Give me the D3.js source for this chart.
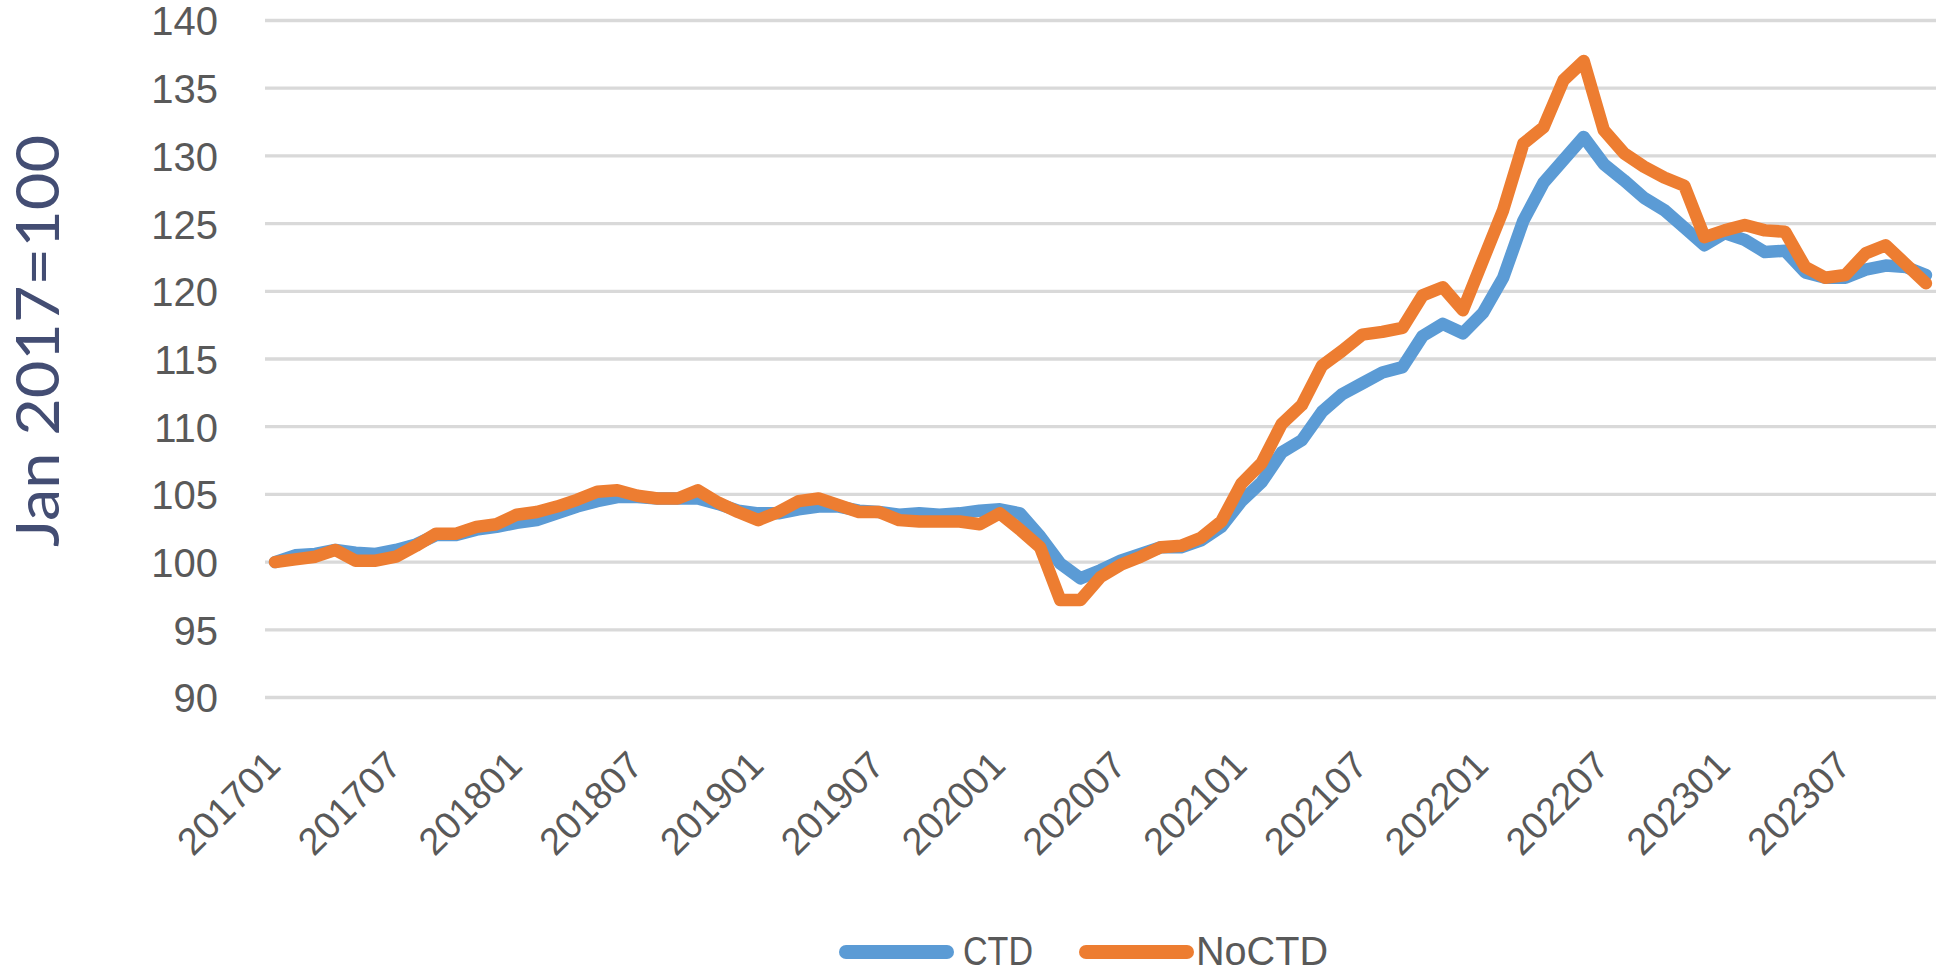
<!DOCTYPE html>
<html>
<head>
<meta charset="utf-8">
<script src="https://cdn.jsdelivr.net/npm/d3@7"></script>
<style>
  body { margin: 0; background: #fff; }
  svg { display: block; }
</style>
</head>
<body>
<svg></svg>
<script>
// monthly categories 201701 .. 202311
let months = [];
for (let yr = 2017; yr <= 2023; yr++) {
    for (let m = 1; m <= 12; m++) {
        if (yr === 2023 && m === 12) break;
        months.push(yr + String(m).padStart(2, "0"));
    }
}

let ctd = [
    100.0, 100.5, 100.6, 100.9, 100.7, 100.6, 100.9, 101.3, 102.0, 102.0, 102.4, 102.6,
    102.9, 103.1, 103.6, 104.1, 104.5, 104.8, 104.8, 104.7, 104.7, 104.7, 104.3, 103.8,
    103.6, 103.6, 103.9, 104.1, 104.1, 103.8, 103.7, 103.5, 103.6, 103.5, 103.6, 103.8,
    103.9, 103.6, 101.9, 99.9, 98.8, 99.4, 100.1, 100.6, 101.1, 101.1, 101.6, 102.6,
    104.5, 105.9, 108.1, 109.0, 111.1, 112.4, 113.2, 114.0, 114.4, 116.7, 117.6, 116.9,
    118.4, 121.0, 125.2, 128.0, 129.7, 131.4, 129.4, 128.2, 126.9, 126.0, 124.7, 123.4,
    124.3, 123.8, 122.9, 123.0, 121.4, 121.0, 121.0, 121.6, 121.9, 121.8, 121.2
];

let noctd = [
    100.0, 100.2, 100.4, 100.9, 100.1, 100.1, 100.4, 101.2, 102.1, 102.1, 102.6, 102.8,
    103.5, 103.7, 104.1, 104.6, 105.2, 105.3, 104.9, 104.7, 104.7, 105.3, 104.4, 103.7,
    103.1, 103.7, 104.5, 104.7, 104.2, 103.7, 103.7, 103.1, 103.0, 103.0, 103.0, 102.8,
    103.6, 102.4, 101.1, 97.2, 97.2, 98.9, 99.8, 100.4, 101.1, 101.2, 101.8, 103.0,
    105.8, 107.3, 110.2, 111.6, 114.5, 115.6, 116.8, 117.0, 117.3, 119.7, 120.3, 118.6,
    122.3, 126.0, 130.9, 132.1, 135.6, 137.0, 131.9, 130.2, 129.2, 128.4, 127.8, 124.0,
    124.5, 124.9, 124.5, 124.4, 121.8, 121.0, 121.2, 122.8, 123.4, 122.0, 120.6
];

let yTicks = [90, 95, 100, 105, 110, 115, 120, 125, 130, 135, 140];
let xTicks = months.filter((d, i) => i % 6 === 0);

let seriesNames = ["CTD", "NoCTD"];
let seriesColors = ["#5b9bd5", "#ed7d31"];

let svg = d3.select("svg").attr("width", 1960).attr("height", 973);

let x = d3.scalePoint().domain(months).range([265, 1936]).padding(0.5);
let y = d3.scaleLinear().domain([90, 140]).range([697.5, 20.5]);

// gridlines
svg.append("g")
    .selectAll("line")
    .data(yTicks)
    .join("line")
    .attr("x1", 265)
    .attr("x2", 1936)
    .attr("y1", d => y(d))
    .attr("y2", d => y(d))
    .style("stroke", "#d9d9d9")
    .style("stroke-width", 3.3);

// y axis labels
let yAxis = svg.append("g")
    .attr("transform", "translate(218,0)")
    .call(d3.axisLeft(y).tickValues(yTicks).tickSize(0).tickPadding(0));
yAxis.select(".domain").remove();
yAxis.selectAll("text")
    .attr("x", 0)
    .attr("dy", "0.36em")
    .style("font-family", "'Liberation Sans', Arial, sans-serif")
    .style("font-size", "40px")
    .style("fill", "#595959");

// x axis labels
let xAxis = svg.append("g")
    .attr("transform", "translate(0,697.5)")
    .call(d3.axisBottom(x).tickValues(xTicks).tickSize(0));
xAxis.select(".domain").remove();
xAxis.selectAll("text")
    .attr("x", 0)
    .attr("y", 0)
    .attr("dy", 0)
    .attr("transform", "translate(7,70) rotate(-45)")
    .style("text-anchor", "end")
    .style("font-family", "'Liberation Sans', Arial, sans-serif")
    .style("font-size", "38px")
    .style("fill", "#595959");

// y axis title
svg.append("text")
    .attr("transform", "translate(59,341) rotate(-90)")
    .attr("text-anchor", "middle")
    .attr("textLength", 412)
    .attr("lengthAdjust", "spacingAndGlyphs")
    .style("font-family", "Lato, 'Open Sans', sans-serif")
    .style("font-size", "60px")
    .style("fill", "#434d73")
    .text("Jan 2017=100");

// lines
let line = d3.line()
    .x((d, i) => x(months[i]))
    .y(d => y(d));

[ctd, noctd].forEach((vals, k) => {
    svg.append("path")
        .attr("d", line(vals))
        .style("fill", "none")
        .style("stroke", seriesColors[k])
        .style("stroke-width", 12.5)
        .style("stroke-linejoin", "round")
        .style("stroke-linecap", "round");
});

// legend
let legendX = [846, 1086];
let legendTextX = [963, 1196];
let legendTextLen = [70, 132];
let legend = svg.append("g");
seriesNames.forEach((name, k) => {
    legend.append("line")
        .attr("x1", legendX[k])
        .attr("x2", legendX[k] + 101)
        .attr("y1", 952)
        .attr("y2", 952)
        .style("stroke", seriesColors[k])
        .style("stroke-width", 14)
        .style("stroke-linecap", "round");
    legend.append("text")
        .attr("x", legendTextX[k])
        .attr("y", 965)
        .attr("textLength", legendTextLen[k])
        .attr("lengthAdjust", "spacingAndGlyphs")
        .style("font-family", "'Liberation Sans Narrow', 'Liberation Sans', sans-serif")
        .style("font-size", "40px")
        .style("fill", "#595959")
        .text(name);
});
</script>
</body>
</html>
